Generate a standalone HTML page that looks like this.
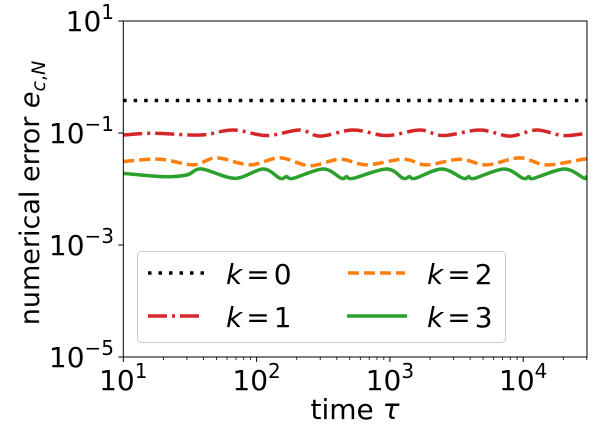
<!DOCTYPE html>
<html><head><meta charset="utf-8">
<style>
html,body{margin:0;padding:0;background:#fff;}
svg{display:block;font-family:"DejaVu Sans","Liberation Sans",sans-serif;}
</style></head>
<body>
<svg id="chart" width="600" height="440" viewBox="0 0 600 440" xmlns="http://www.w3.org/2000/svg">
<g id="ticks"></g>
<g id="series"></g>
<rect x="123.3" y="21" width="463.7" height="336" fill="none" stroke="#000" stroke-width="1"/>
<text transform="translate(39,193) rotate(-90)" text-anchor="middle" font-size="27">numerical error <tspan font-style="italic">e</tspan><tspan font-size="19" dy="6"><tspan font-style="italic">c</tspan>,<tspan font-style="italic">N</tspan></tspan></text>
<text x="355" y="419" text-anchor="middle" font-size="28">time <tspan font-style="italic">τ</tspan></text>
<g>
<rect x="137.5" y="251.5" width="368" height="91" rx="4" fill="#fff" fill-opacity="0.8" stroke="#ccc" stroke-width="1"/>
<line x1="148" y1="273" x2="204" y2="273" stroke="#000" stroke-width="3.5" stroke-dasharray="3.5 7"/>
<text x="226" y="284" font-size="28"><tspan font-style="italic">k</tspan><tspan dx="4">=</tspan><tspan dx="4">0</tspan></text>
<line x1="148" y1="316" x2="204" y2="316" stroke="#d62728" stroke-width="3.5" stroke-dasharray="19 5 3 5"/>
<text x="226" y="327" font-size="28"><tspan font-style="italic">k</tspan><tspan dx="4">=</tspan><tspan dx="4">1</tspan></text>
<line x1="348" y1="273" x2="405" y2="273" stroke="#ff7f0e" stroke-width="3.5" stroke-dasharray="11 5"/>
<text x="427" y="284" font-size="28"><tspan font-style="italic">k</tspan><tspan dx="4">=</tspan><tspan dx="4">2</tspan></text>
<line x1="347" y1="316" x2="407" y2="316" stroke="#2ca02c" stroke-width="3.5"/>
<text x="427" y="327" font-size="28"><tspan font-style="italic">k</tspan><tspan dx="4">=</tspan><tspan dx="4">3</tspan></text>
</g>
</svg>
<script>
const xTickExps = [1,2,3,4];
const yTickExps = [1,-1,-3,-5];
const tauK0 = [10,30000];
const errK0 = [0.38,0.38];
const tauK1 = [10,16.8,37.6,66.8,119,211,299,531,944,1679,2512,4732,7943,12589,19953,30000];
const errK1 = [0.092,0.099,0.092,0.113,0.09,0.113,0.088,0.113,0.09,0.113,0.09,0.113,0.088,0.113,0.09,0.099];
const tauK2 = [10,18.8,33.5,50,89,150,251,422,668,1259,1884,3350,5309,9441,14962,28184,30000];
const errK2 = [0.031,0.034,0.027,0.036,0.027,0.036,0.026,0.034,0.027,0.034,0.027,0.034,0.027,0.036,0.027,0.034,0.034];
const tauK3 = [10,20,29.9,38.7,68.9,112,150,168,188,316,434,473,531,944,1259,1400,1550,2450,3550,3900,4300,7200,10000,11000,12000,20400,28800,30000];
const errK3 = [0.019,0.0166,0.0178,0.0228,0.0155,0.0228,0.0155,0.0166,0.0155,0.0228,0.0155,0.0166,0.0155,0.0228,0.0155,0.0166,0.0155,0.0228,0.0155,0.0166,0.0155,0.0228,0.0155,0.0166,0.0155,0.0228,0.0155,0.017];

const X0=123.3, XPD=133.3, XMIN=1;
const Y0=21, YPD=56, YMAX=1;
function xScale(t){return X0+(Math.log10(t)-XMIN)*XPD;}
function yScale(v){return Y0+(YMAX-Math.log10(v))*YPD;}
const NS="http://www.w3.org/2000/svg";
function mk(tag,attrs,parent){const e=document.createElementNS(NS,tag);for(const k in attrs)e.setAttribute(k,attrs[k]);parent.appendChild(e);return e;}
const ticks=document.getElementById('ticks');
for(let d=1; d<=4; d++){
  for(let m=1;m<10;m++){
    const t=m*Math.pow(10,d);
    if(t>30000) break;
    const x=xScale(t);
    const ln=mk('line',{x1:x,x2:x,y1:357,y2:m===1?362:360,stroke:'#000','stroke-width':m===1?1:0.8},ticks);
    
    
  }
}
xTickExps.forEach(e=>{
  const x=xScale(Math.pow(10,e));
  const tx=mk('text',{x:x,y:390,'text-anchor':'middle','font-size':28},ticks);
  
  
  tx.innerHTML='10<tspan font-size="20" dy="-12">'+e+'</tspan>';
});
yTickExps.forEach(e=>{
  const y=yScale(Math.pow(10,e));
  const ln=mk('line',{x1:118.3,x2:123.3,y1:y,y2:y,stroke:'#000','stroke-width':1},ticks);
  
  
  const tx=mk('text',{x:114,y:y+10,'text-anchor':'end','font-size':28},ticks);
  
  
  tx.innerHTML='10<tspan font-size="20" dy="-12">'+(e<0?'\u2212'+(-e):e)+'</tspan>';
});
const sg=document.getElementById('series');
function smoothPath(ts,vs){
  const p=ts.map((t,i)=>[xScale(t),yScale(vs[i])]);
  let d='M'+p[0][0]+','+p[0][1];
  for(let i=0;i<p.length-1;i++){
    const p0=p[Math.max(0,i-1)],p1=p[i],p2=p[i+1],p3=p[Math.min(p.length-1,i+2)];
    const c1=[p1[0]+(p2[0]-p0[0])/6,p1[1]+(p2[1]-p0[1])/6];
    const c2=[p2[0]-(p3[0]-p1[0])/6,p2[1]-(p3[1]-p1[1])/6];
    d+=' C'+c1[0]+','+c1[1]+' '+c2[0]+','+c2[1]+' '+p2[0]+','+p2[1];
  }
  return d;
}
const defs=mk('defs',{},sg);
const cp=mk('clipPath',{id:'clip'},defs);
mk('rect',{x:123.3,y:21,width:463.7,height:336},cp);
const s0=mk('path',{d:smoothPath(tauK0,errK0),fill:'none',stroke:'#000','stroke-width':3.5,'stroke-dasharray':'3.5 7','clip-path':'url(#clip)'},sg);


const s1=mk('path',{d:smoothPath(tauK1,errK1),fill:'none',stroke:'#d62728','stroke-width':3.5,'stroke-dasharray':'19 5 3 5','clip-path':'url(#clip)'},sg);


const s2=mk('path',{d:smoothPath(tauK2,errK2),fill:'none',stroke:'#ff7f0e','stroke-width':3.5,'stroke-dasharray':'11 5','clip-path':'url(#clip)'},sg);


const s3=mk('path',{d:smoothPath(tauK3,errK3),fill:'none',stroke:'#2ca02c','stroke-width':3.5,'clip-path':'url(#clip)'},sg);


</script>
</body></html>
